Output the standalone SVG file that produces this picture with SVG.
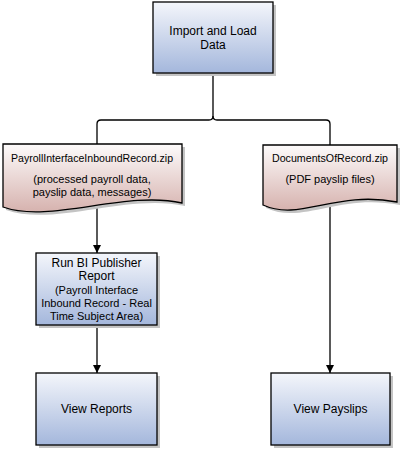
<svg xmlns="http://www.w3.org/2000/svg" width="401" height="450" viewBox="0 0 401 450">
<defs>
<linearGradient id="gBlue" x1="0" y1="0" x2="0" y2="1">
<stop offset="0" stop-color="#f4f6fb"/>
<stop offset="1" stop-color="#a4b7dc"/>
</linearGradient>
<linearGradient id="gDoc" x1="0" y1="0" x2="0" y2="1">
<stop offset="0" stop-color="#fdfbfb"/>
<stop offset="1" stop-color="#d6b2ae"/>
</linearGradient>
<marker id="arr" viewBox="0 0 10 10" refX="10" refY="5" markerWidth="8" markerHeight="8" markerUnits="userSpaceOnUse" orient="auto">
<path d="M0,0 L10,5 L0,10 Z" fill="#000"/>
</marker>
<style>
.box{fill:url(#gBlue);stroke:#000;stroke-width:1.3}
.doc{fill:url(#gDoc);stroke:#000;stroke-width:1.3}
.sh{fill:#c4c4c4;stroke:none}
.ln{fill:none;stroke:#000;stroke-width:1.3}
text{font-family:"Liberation Sans",Arial,sans-serif;font-size:11px;fill:#000;text-anchor:middle}
.big{font-size:12px}
</style>
</defs>
<g id="connectors">
<path class="ln" d="M213,73 V116 Q213,120 209,120 H101 Q97,120 97,124 V144"/>
<path class="ln" d="M213,116 Q213,120 217,120 H326 Q330,120 330,124 V145"/>
<path class="ln" d="M97,207 V253" marker-end="url(#arr)"/>
<path class="ln" d="M97,325 V373" marker-end="url(#arr)"/>
<path class="ln" d="M330,203 V373" marker-end="url(#arr)"/>
</g>
<g id="import">
<rect class="sh" x="156" y="5" width="120" height="71"/>
<rect class="box" x="153" y="2" width="120" height="71"/>
<text class="big" x="213" y="35">Import and Load</text>
<text class="big" x="213" y="49">Data</text>
</g>
<g id="payrollDoc">
<path class="sh" d="M6,147 H185 V206 C128,193 53,227 6,210 Z"/>
<path class="doc" d="M3,144 H182 V203 C125,190 50,224 3,207 Z"/>
<text x="92" y="162" textLength="162" lengthAdjust="spacingAndGlyphs">PayrollInterfaceInboundRecord.zip</text>
<text x="92" y="183">(processed payroll data,</text>
<text x="92" y="196">payslip data, messages)</text>
</g>
<g id="docsDoc">
<path class="sh" d="M266,148 H400 V205 C338,193 303,225 266,208 Z"/>
<path class="doc" d="M263,145 H397 V202 C335,190 300,222 263,205 Z"/>
<text x="330" y="162" textLength="116" lengthAdjust="spacingAndGlyphs">DocumentsOfRecord.zip</text>
<text x="330" y="183">(PDF payslip files)</text>
</g>
<g id="runBI">
<rect class="sh" x="39" y="256" width="121" height="72"/>
<rect class="box" x="36" y="253" width="121" height="72"/>
<text class="big" x="96.5" y="267">Run BI Publisher</text>
<text class="big" x="96.5" y="280">Report</text>
<text x="96.5" y="294">(Payroll Interface</text>
<text x="96.5" y="307">Inbound Record - Real</text>
<text x="96.5" y="320">Time Subject Area)</text>
</g>
<g id="viewReports">
<rect class="sh" x="39" y="376" width="121" height="72"/>
<rect class="box" x="36" y="373" width="121" height="72"/>
<text class="big" x="96.5" y="413">View Reports</text>
</g>
<g id="viewPayslips">
<rect class="sh" x="274" y="376" width="119" height="72"/>
<rect class="box" x="271" y="373" width="119" height="72"/>
<text class="big" x="330.5" y="413">View Payslips</text>
</g>
</svg>
